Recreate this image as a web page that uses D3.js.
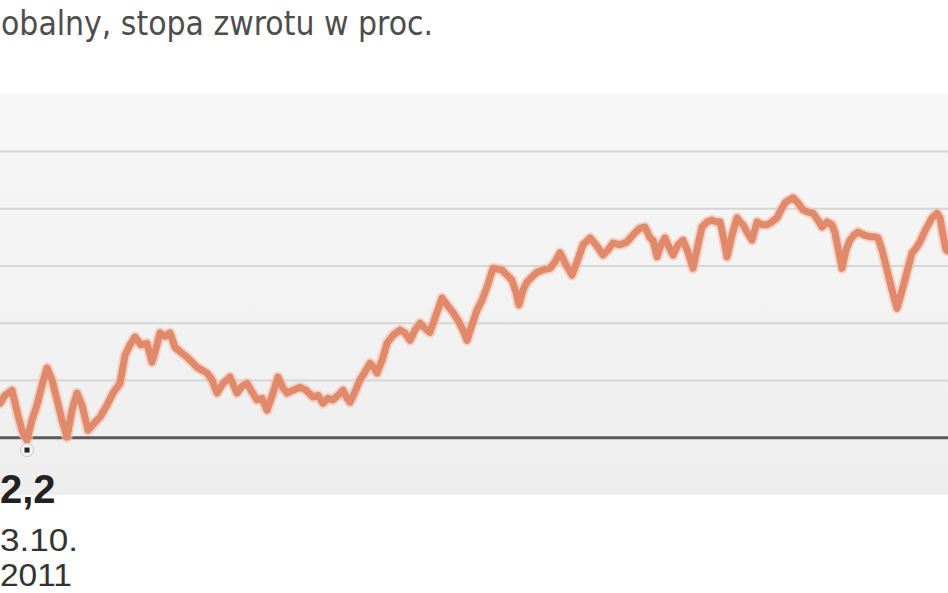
<!DOCTYPE html>
<html><head><meta charset="utf-8">
<script src="https://cdn.jsdelivr.net/npm/d3@7"></script>
<style>html,body{margin:0;padding:0;background:#fff;overflow:hidden}</style>
</head><body>
<svg id="c" width="948" height="593"></svg>
<script>
// ---- data ----
const startDate = "2011-09-06";
const dayOffsets = [0,5,12,18,22,27,32,37,42,47,52,57,62,67,72,77,82,88,95,100,107,113,120,125,130,135,141,147,152,156,160,165,170,175,181,187,192,197,202,207,212,217,223,230,237,242,247,252,257,262,267,273,278,283,287,293,300,306,313,318,323,328,333,338,343,347,350,355,360,365,370,374,377,382,387,393,400,405,410,415,420,425,430,436,442,447,453,458,463,467,472,477,482,487,493,502,507,512,516,519,523,527,532,537,543,550,555,560,566,572,577,583,590,596,603,608,613,620,627,635,640,645,650,653,657,661,665,669,673,678,683,688,693,698,702,707,712,716,720,724,727,732,737,740,743,747,752,757,762,767,772,777,781,785,789,793,798,803,808,813,818,822,827,832,835,837,840,842,846,850,854,858,864,870,874,878,882,887,892,897,900,903,908,912,916,920,924,927,932,937,940,943,946,948];
const values = [6.0,7.4,8.3,3.9,1.3,-0.4,3.1,5.7,9.2,12.2,10.1,6.6,3.1,0.1,4.8,7.8,5.7,1.3,2.7,3.6,5.7,7.8,9.5,14.4,16.2,17.6,16.2,16.5,13.2,15.6,18.3,17.7,18.3,15.8,14.9,14.1,13.2,12.3,11.8,11.3,10.1,7.8,9.5,10.6,7.8,9.0,9.5,8.0,6.6,6.9,4.8,7.8,10.6,8.7,7.8,8.3,8.8,8.3,7.1,7.4,6.0,6.9,6.6,7.4,8.3,6.9,6.2,8.0,10.1,11.5,13.0,12.2,11.3,13.5,16.5,17.9,18.8,18.3,17.0,18.8,20.0,19.1,18.4,21.4,24.4,23.2,21.9,20.5,18.8,17.0,19.7,22.3,24.0,26.3,29.6,29.3,28.4,27.5,25.4,23.2,25.8,27.2,28.1,28.9,29.3,29.6,30.7,32.3,30.2,28.4,30.7,33.7,34.9,33.7,31.9,32.8,34.0,33.7,34.2,35.8,36.6,36.8,34.9,34.5,31.6,33.7,34.9,33.3,31.9,33.7,34.5,32.4,29.6,33.7,36.8,37.7,38.0,37.7,37.7,34.5,31.6,35.4,38.4,37.7,37.2,35.9,34.5,37.7,37.2,37.2,37.7,38.4,39.8,41.0,41.5,41.9,41.0,39.8,39.4,39.2,38.0,36.8,37.7,37.2,35.8,34.0,31.4,29.6,32.8,34.5,35.4,35.9,35.4,35.1,35.1,34.9,32.8,29.3,25.8,22.6,24.4,26.3,29.6,32.3,33.1,34.2,35.8,36.8,38.4,39.2,38.4,35.4,32.8,32.6];
const gridValues = [10,20,30,40,50];
const subtitle = "obalny, stopa zwrotu w proc.";
const minLabel = "2,2";
const minDateLines = ["3.10.", "2011"];

// ---- build ----
const parse = d3.timeParse("%Y-%m-%d");
const t0 = parse(startDate);
const data = dayOffsets.map((d,i)=>({date:d3.timeDay.offset(t0,d), v:values[i]}));

const W = 948, H = 593;
const svg = d3.select("#c");
const x = d3.scaleTime().domain([t0, d3.timeDay.offset(t0, 948)]).range([0, W]);
const y = d3.scaleLinear().domain([-10, 60.2]).range([495, 93]);

const defs = svg.append("defs");
const g = defs.append("linearGradient").attr("id","bg").attr("x1",0).attr("x2",0).attr("y1",0).attr("y2",1);
g.append("stop").attr("offset","0").attr("stop-color","#f7f7f7");
g.append("stop").attr("offset","1").attr("stop-color","#eeeeee");

svg.append("rect").attr("x",0).attr("width",W)
  .attr("y",y(60.2)).attr("height",y(-10)-y(60.2)).attr("fill","url(#bg)");

svg.append("g").selectAll("line").data(gridValues).join("line")
  .attr("x1",0).attr("x2",W).attr("y1",d=>y(d)).attr("y2",d=>y(d))
  .attr("stroke","#d6d6d6").attr("stroke-width",2);

svg.append("line").attr("x1",0).attr("x2",W).attr("y1",y(0)).attr("y2",y(0))
  .attr("stroke","#5a5a5a").attr("stroke-width",3);

const line = d3.line().x(d=>x(d.date)).y(d=>y(d.v)).curve(d3.curveLinear);
svg.append("path").datum(data).attr("d",line).attr("fill","none")
  .attr("stroke","#f3c0aa").attr("stroke-width",11).attr("stroke-opacity",0.6)
  .attr("stroke-linejoin","round").attr("stroke-linecap","round");
svg.append("path").datum(data).attr("d",line).attr("fill","none")
  .attr("stroke","#e08a6b").attr("stroke-width",7)
  .attr("stroke-linejoin","round").attr("stroke-linecap","round");

// min marker
const minD = data.reduce((a,b)=> b.v<a.v?b:a);
const mx = x(minD.date), my = y(minD.v)+10;
svg.append("circle").attr("cx",mx).attr("cy",my).attr("r",6.5).attr("fill","#f2f2f2").attr("stroke","#c8c8c8").attr("stroke-width",1);
svg.append("rect").attr("x",mx-2.5).attr("y",my-2.5).attr("width",5).attr("height",5).attr("fill","#222");

// texts
svg.append("text").attr("x",1).attr("y",35).text(subtitle)
  .attr("font-family","'DejaVu Sans Condensed','DejaVu Sans',sans-serif")
  .attr("font-size",34).attr("fill","#4d4d4d")
  .attr("textLength",432).attr("lengthAdjust","spacingAndGlyphs");

svg.append("text").attr("x",0).attr("y",503).text(minLabel)
  .attr("font-family","'Liberation Sans',Arial,sans-serif").attr("font-weight","bold")
  .attr("font-size",40).attr("fill","#222");

svg.append("text").attr("x",0).attr("y",551).text(minDateLines[0])
  .attr("font-family","'Liberation Sans',Arial,sans-serif").attr("font-size",31).attr("fill","#333")
  .attr("textLength",78).attr("lengthAdjust","spacingAndGlyphs");
svg.append("text").attr("x",0).attr("y",586).text(minDateLines[1])
  .attr("font-family","'Liberation Sans',Arial,sans-serif").attr("font-size",31).attr("fill","#333")
  .attr("textLength",72).attr("lengthAdjust","spacingAndGlyphs");
</script>
</body></html>
